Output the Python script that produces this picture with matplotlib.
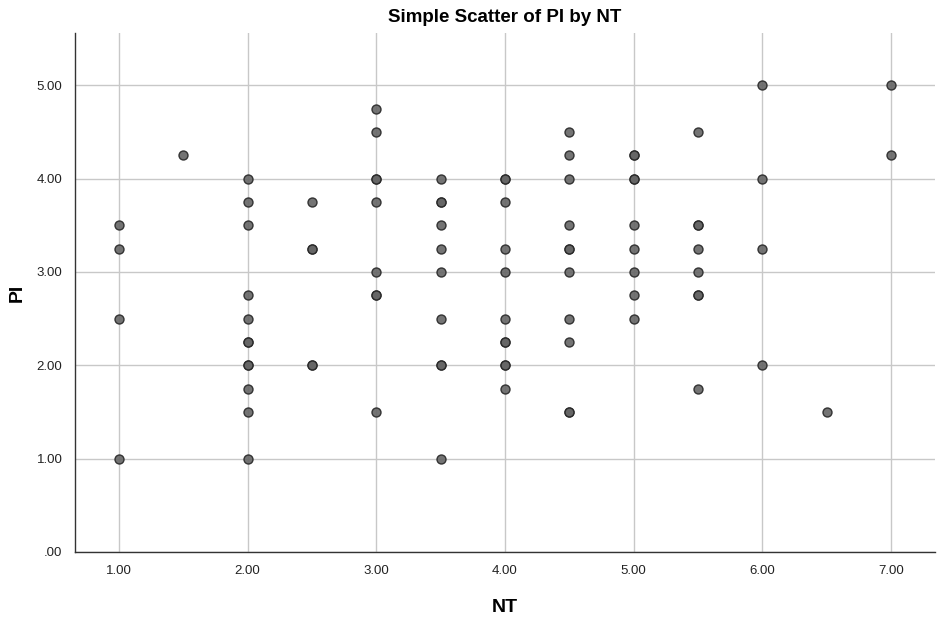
import matplotlib
matplotlib.use('Agg')
import matplotlib.pyplot as plt

plt.rcParams['font.family'] = ['Liberation Sans', 'DejaVu Sans']

# NT / PI pairs, repeated pairs drawn twice (darker dots)
nt = [1, 1, 1, 1,
      1.5,
      2, 2, 2, 2, 2, 2, 2, 2, 2, 2, 2, 2,
      2.5, 2.5, 2.5, 2.5, 2.5,
      3, 3, 3, 3, 3, 3, 3, 3, 3,
      3.5, 3.5, 3.5, 3.5, 3.5, 3.5, 3.5, 3.5, 3.5, 3.5,
      4, 4, 4, 4, 4, 4, 4, 4, 4, 4, 4,
      4.5, 4.5, 4.5, 4.5, 4.5, 4.5, 4.5, 4.5, 4.5, 4.5, 4.5,
      5, 5, 5, 5, 5, 5, 5, 5, 5,
      5.5, 5.5, 5.5, 5.5, 5.5, 5.5, 5.5, 5.5,
      6, 6, 6, 6,
      6.5,
      7, 7]
pi = [3.5, 3.25, 2.5, 1.0,
      4.25,
      4.0, 3.75, 3.5, 2.75, 2.5, 2.25, 2.25, 2.0, 2.0, 1.75, 1.5, 1.0,
      3.75, 3.25, 3.25, 2.0, 2.0,
      4.75, 4.5, 4.0, 4.0, 3.75, 3.0, 2.75, 2.75, 1.5,
      4.0, 3.75, 3.75, 3.5, 3.25, 3.0, 2.5, 2.0, 2.0, 1.0,
      4.0, 4.0, 3.75, 3.25, 3.0, 2.5, 2.25, 2.25, 2.0, 2.0, 1.75,
      4.5, 4.25, 4.0, 3.5, 3.25, 3.25, 3.0, 2.5, 2.25, 1.5, 1.5,
      4.25, 4.25, 4.0, 4.0, 3.5, 3.25, 3.0, 2.75, 2.5,
      4.5, 3.5, 3.5, 3.25, 3.0, 2.75, 2.75, 1.75,
      5.0, 4.0, 3.25, 2.0,
      1.5,
      5.0, 4.25]

xticks = [1, 2, 3, 4, 5, 6, 7]
yticks = [0, 1, 2, 3, 4, 5]
yticklabels = ['.00', '1.00', '2.00', '3.00', '4.00', '5.00']

fig = plt.figure(figsize=(9.38, 6.21), dpi=100)
ax = fig.add_axes([75/938, 69/621, 860/938, 519/621])

ax.scatter(nt, pi, s=42, c='#656565', edgecolors='#262626', linewidths=1.0,
           alpha=0.9, zorder=3)

ax.set_xlim(0.66, 7.34)
ax.set_ylim(0, 5.56)
ax.set_xticks(xticks)
ax.set_xticklabels(['%.2f' % v for v in xticks])
ax.set_yticks(yticks)
ax.set_yticklabels(yticklabels)
ax.tick_params(length=0, labelsize=9.5, pad=9, colors='#222222')

ax.grid(True, color='#c8c8c8', linewidth=1.0, zorder=0)
ax.set_axisbelow(True)
for s in ['top', 'right']:
    ax.spines[s].set_visible(False)
for s in ['left', 'bottom']:
    ax.spines[s].set_color('#333333')
    ax.spines[s].set_linewidth(1.0)

ax.set_title('Simple Scatter of PI by NT', fontsize=13.5, fontweight='bold', pad=8)
ax.set_xlabel('NT', fontsize=14, fontweight='bold', labelpad=16)
ax.set_ylabel('PI', fontsize=14, fontweight='bold', labelpad=8)

fig.savefig('out.png', dpi=100)
